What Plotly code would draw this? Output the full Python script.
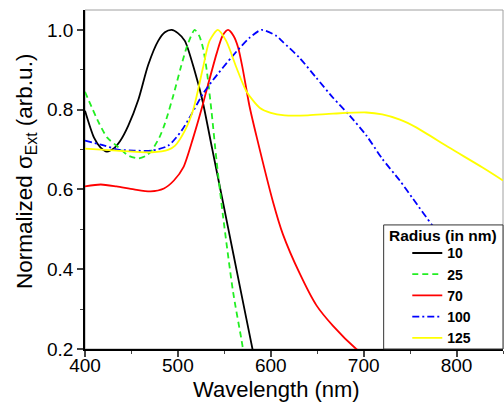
import plotly.graph_objects as go

# Normalized extinction spectra for gold nanoparticles of several radii
radius_labels = ["10", "25", "70", "100", "125"]
legend_title = "Radius (in nm)"

wl_r10 = [400, 409.7, 416.8, 423.5, 431, 438, 446.6, 457.4, 468, 478.8, 486, 493.3,
          500, 507.5, 518, 526.5, 537, 548.7, 560, 566.7, 580.3, 590]
ext_r10 = [0.7975, 0.73, 0.705, 0.695, 0.703, 0.722, 0.76, 0.825, 0.912, 0.9725, 0.994, 1.0,
           0.992, 0.9725, 0.8975, 0.8225, 0.701, 0.566, 0.435, 0.357, 0.2, 0.09]

wl_r25 = [400, 414.3, 424, 435.8, 446.6, 457.4, 466, 471.7, 480, 486, 495, 503, 510, 518,
          523, 527, 531, 536, 541.6, 548.7, 559.5, 568.5, 575]
ext_r25 = [0.845, 0.77, 0.73, 0.706, 0.685, 0.678, 0.685, 0.6975, 0.73, 0.765, 0.835, 0.905, 0.96, 1.0,
           0.985, 0.955, 0.9, 0.8, 0.6725, 0.531, 0.342, 0.2225, 0.13]

wl_r70 = [400, 417, 434, 452.7, 470.6, 485, 495.7, 506, 516.5, 526, 531, 541.6, 548, 554,
          560, 565, 570, 577, 585, 602.5, 613, 631, 649, 667, 692, 720]
ext_r70 = [0.6075, 0.6125, 0.6075, 0.6, 0.595, 0.6025, 0.6225, 0.656, 0.73, 0.806, 0.85, 0.94, 0.985, 1.0,
           0.985, 0.955, 0.9, 0.81, 0.73, 0.568, 0.488, 0.39, 0.31, 0.258, 0.2, 0.15]

wl_r100 = [400, 417, 435.8, 452.7, 471.7, 489.6, 504, 514.7, 527, 538, 559, 577, 590,
           606, 613, 631, 649, 667, 685, 703, 720, 739, 753, 774, 800, 825, 850]
ext_r100 = [0.7225, 0.7125, 0.70, 0.6975, 0.6975, 0.71, 0.7475, 0.789, 0.84, 0.875, 0.935, 0.98, 1.0,
            0.985, 0.97, 0.93, 0.88, 0.83, 0.785, 0.735, 0.677, 0.622, 0.577, 0.51, 0.44, 0.375, 0.31]

wl_r125 = [400, 434, 471.7, 490, 497, 507.5, 516.5, 527, 534, 543, 552, 563, 574, 588,
           600, 615, 640, 667, 703, 720, 739, 757, 792, 828, 850]
ext_r125 = [0.7025, 0.6975, 0.6933, 0.70, 0.71, 0.7475, 0.80, 0.905, 0.9725, 1.0, 0.9725, 0.9058, 0.845, 0.805,
            0.792, 0.786, 0.786, 0.79, 0.793, 0.788, 0.775, 0.755, 0.705, 0.655, 0.6225]

x_ticks = [400, 500, 600, 700, 800]
y_ticks = [0.2, 0.4, 0.6, 0.8, 1.0]

series = [
    (wl_r10, ext_r10, "#000000", "solid"),
    (wl_r25, ext_r25, "#22ee22", "6px,4px"),
    (wl_r70, ext_r70, "#ff0000", "solid"),
    (wl_r100, ext_r100, "#0000ff", "7px,3px,2px,3px"),
    (wl_r125, ext_r125, "#ffff00", "solid"),
]

FONT = "Arial, Liberation Sans, sans-serif"

fig = go.Figure()
for label, (xs, ys, color, dash) in zip(radius_labels, series):
    fig.add_trace(go.Scatter(
        x=xs, y=ys, mode="lines", name=f"<b>{label}</b>",
        line=dict(color=color, width=1.8, dash=dash, shape="spline", smoothing=0.7),
    ))

# legend panel: white box with border in the lower-right corner of the plot
box_x0, box_y1 = 0.7145, 0.366

fig.update_layout(
    width=504, height=405,
    margin=dict(l=85, r=1, t=10, b=56),
    paper_bgcolor="white", plot_bgcolor="white",
    font=dict(family=FONT, color="black"),
    showlegend=True,
    legend=dict(
        x=0.771, y=-0.013, xanchor="left", yanchor="bottom",
        bgcolor="rgba(0,0,0,0)", borderwidth=0,
        font=dict(size=14, family=FONT),
        tracegroupgap=0,
    ),
    shapes=[
        dict(type="rect", xref="paper", yref="paper", x0=0, y0=0, x1=1, y1=1,
             line=dict(color="#a0a0a0", width=1), layer="below"),
        dict(type="rect", xref="paper", yref="paper", x0=box_x0, y0=0, x1=1, y1=box_y1,
             line=dict(color="#333333", width=1), fillcolor="white", layer="above"),
    ],
    annotations=[
        dict(text=f"<b>{legend_title}</b>", xref="paper", yref="paper",
             x=(box_x0 + 1) / 2, y=box_y1 - 0.03, xanchor="center", yanchor="middle",
             showarrow=False, font=dict(size=15.5, family=FONT)),
        dict(text="Wavelength (nm)", xref="paper", yref="paper", x=0.459, y=-0.118,
             xanchor="center", yanchor="middle", showarrow=False,
             font=dict(size=22, family=FONT)),
        dict(text="Normalized σ<sub>Ext</sub> (arb.u.)", xref="paper", yref="paper",
             x=-0.141, y=0.522, xanchor="center", yanchor="middle", textangle=-90,
             showarrow=False, font=dict(size=22.5, family=FONT)),
    ],
)

fig.update_xaxes(
    range=[400, 850], tickvals=x_ticks, ticks="outside", ticklen=6, tickwidth=1.5,
    showline=True, linecolor="black", linewidth=1.5, showgrid=False, zeroline=False,
    tickfont=dict(size=19, family=FONT), ticklabelstandoff=-8,
    minor=dict(ticks="outside", ticklen=3, tickwidth=1, dtick=50, tick0=400, showgrid=False),
)
fig.update_yaxes(
    range=[0.2, 1.05], tickvals=y_ticks, tickformat=".1f", ticks="outside", ticklen=6, tickwidth=1.5,
    showline=True, linecolor="black", linewidth=1.5, showgrid=False, zeroline=False,
    tickfont=dict(size=19, family=FONT),
    minor=dict(ticks="outside", ticklen=3, tickwidth=1, dtick=0.1, tick0=0.2, showgrid=False),
)

fig.write_html("out.html")
